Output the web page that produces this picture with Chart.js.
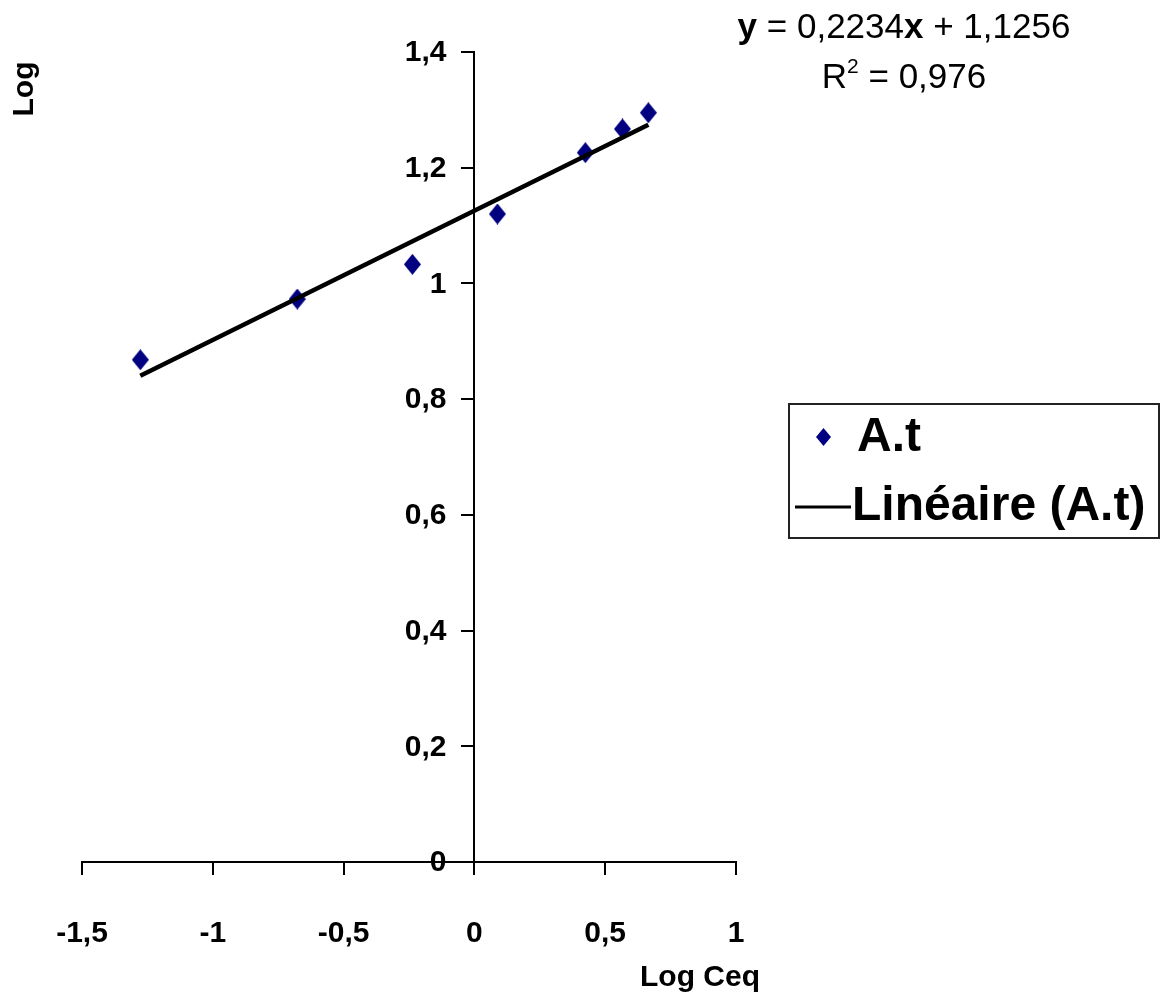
<!DOCTYPE html>
<html>
<head>
<meta charset="utf-8">
<title>Log Ceq</title>
<script src="https://cdn.jsdelivr.net/npm/chart.js@4.4.1/dist/chart.umd.min.js"></script>
<style>
  html, body { margin: 0; padding: 0; background: #fff; }
  #wrap { width: 1162px; height: 999px; position: relative; }
</style>
</head>
<body>
<div id="wrap"><canvas id="freundlich"></canvas></div>
<script>
// measured points, A.t series
const logCeq = [-1.277, -0.677, -0.237, 0.088, 0.424, 0.566, 0.665];
const logQe = [0.868, 0.973, 1.033, 1.120, 1.226, 1.267, 1.295];

// regression shown in the top-right label
const slope = 0.2234;
const intercept = 1.1256;
const rSquared = '0,976';

const seriesName = 'A.t';
const trendName = 'Linéaire (A.t)';

const FONT = '"Liberation Sans", Arial, sans-serif';
const NAVY = '#000080';

const points = logCeq.map((x, i) => ({ x, y: logQe[i] }));
const xLo = Math.min(...logCeq);
const xHi = Math.max(...logCeq);
const trend = [xLo, xHi].map(x => ({ x, y: slope * x + intercept }));

const fr = v => String(Math.round(v * 10) / 10).replace('.', ',');

// slightly tall diamond marker
function diamond(w, h) {
  const c = document.createElement('canvas');
  c.width = w;
  c.height = h;
  const g = c.getContext('2d');
  g.fillStyle = NAVY;
  g.beginPath();
  g.moveTo(w / 2, 0);
  g.lineTo(w, h / 2);
  g.lineTo(w / 2, h);
  g.lineTo(0, h / 2);
  g.closePath();
  g.fill();
  return c;
}
const marker = diamond(17, 21);
const legendMarker = diamond(15, 18);

// extra drawing: y tick labels, axis titles, equation, boxed legend
const extras = {
  id: 'extras',
  afterDraw(chart) {
    const ctx = chart.ctx;
    const xs = chart.scales.x;
    const ys = chart.scales.y;
    ctx.save();
    ctx.fillStyle = '#000';

    // y tick labels, left of the centred axis
    const axisX = xs.getPixelForValue(0);
    ctx.font = 'bold 30px ' + FONT;
    ctx.textAlign = 'right';
    ctx.textBaseline = 'middle';
    ys.ticks.forEach(t => {
      ctx.fillText(fr(t.value), axisX - 28, ys.getPixelForValue(t.value) + 1);
    });

    // y title, rotated, top-left corner
    ctx.save();
    ctx.translate(33, 89);
    ctx.rotate(-Math.PI / 2);
    ctx.font = 'bold 30px ' + FONT;
    ctx.textAlign = 'center';
    ctx.textBaseline = 'alphabetic';
    ctx.fillText('Log', 0, 0);
    ctx.restore();

    // x title
    ctx.font = 'bold 30px ' + FONT;
    ctx.textAlign = 'center';
    ctx.textBaseline = 'alphabetic';
    ctx.fillText('Log Ceq', 700, 986);

    // equation with bold y and x
    const runs = [
      { t: 'y', b: true },
      { t: ' = ' + String(slope).replace('.', ','), b: false },
      { t: 'x', b: true },
      { t: ' + ' + String(intercept).replace('.', ','), b: false }
    ];
    const eqSize = 35;
    let total = 0;
    runs.forEach(r => {
      ctx.font = (r.b ? 'bold ' : '') + eqSize + 'px ' + FONT;
      r.w = ctx.measureText(r.t).width;
      total += r.w;
    });
    let cx = 904 - total / 2;
    ctx.textAlign = 'left';
    runs.forEach(r => {
      ctx.font = (r.b ? 'bold ' : '') + eqSize + 'px ' + FONT;
      ctx.fillText(r.t, cx, 38);
      cx += r.w;
    });

    // R² line
    ctx.font = eqSize + 'px ' + FONT;
    const wR = ctx.measureText('R').width;
    const wEq = ctx.measureText(' = ' + rSquared).width;
    ctx.font = '21px ' + FONT;
    const w2 = ctx.measureText('2').width;
    const rx = 904 - (wR + w2 + wEq) / 2;
    ctx.font = eqSize + 'px ' + FONT;
    ctx.fillText('R', rx, 88);
    ctx.font = '21px ' + FONT;
    ctx.fillText('2', rx + wR, 73);
    ctx.font = eqSize + 'px ' + FONT;
    ctx.fillText(' = ' + rSquared, rx + wR + w2, 88);

    // legend box
    ctx.strokeStyle = '#222';
    ctx.lineWidth = 2;
    ctx.strokeRect(789, 404, 370, 134);

    const ds = chart.data.datasets;
    ctx.drawImage(legendMarker, 816, 428);

    ctx.strokeStyle = ds[1].borderColor;
    ctx.lineWidth = 3;
    ctx.beginPath();
    ctx.moveTo(795, 507);
    ctx.lineTo(851, 507);
    ctx.stroke();

    ctx.fillStyle = '#000';
    ctx.font = 'bold 48px ' + FONT;
    ctx.textAlign = 'left';
    ctx.textBaseline = 'middle';
    ctx.fillText(ds[0].label, 857, 438);
    ctx.fillText(ds[1].label, 852, 507);

    ctx.restore();
  }
};

const axisFont = { family: FONT, size: 30, weight: 'bold' };

new Chart(document.getElementById('freundlich'), {
  type: 'scatter',
  data: {
    datasets: [
      {
        label: seriesName,
        data: points,
        pointStyle: marker,
        pointRadius: 10,
        pointHoverRadius: 10,
        pointBackgroundColor: NAVY,
        pointBorderColor: NAVY,
        showLine: false,
        order: 1
      },
      {
        label: trendName,
        type: 'line',
        data: trend,
        borderColor: '#000',
        borderWidth: 4.5,
        pointRadius: 0,
        fill: false,
        order: 0
      }
    ]
  },
  options: {
    responsive: true,
    maintainAspectRatio: false,
    animation: false,
    layout: {
      padding: { left: 82, top: 52, right: 426, bottom: 137 }
    },
    plugins: {
      legend: { display: false },
      tooltip: { enabled: false }
    },
    scales: {
      x: {
        type: 'linear',
        min: -1.5,
        max: 1,
        position: { y: 0 },
        ticks: {
          stepSize: 0.5,
          padding: 42,
          color: '#000',
          font: axisFont,
          callback: v => fr(v)
        },
        grid: { drawOnChartArea: false, drawTicks: true, tickLength: 12, color: '#000', lineWidth: 2 },
        border: { color: '#000', width: 2 }
      },
      y: {
        type: 'linear',
        min: 0,
        max: 1.4,
        position: { x: 0 },
        ticks: {
          stepSize: 0.2,
          display: false
        },
        grid: { drawOnChartArea: false, drawTicks: true, tickLength: 12, color: '#000', lineWidth: 2 },
        border: { color: '#000', width: 2 }
      }
    }
  },
  plugins: [extras]
});
</script>
</body>
</html>
